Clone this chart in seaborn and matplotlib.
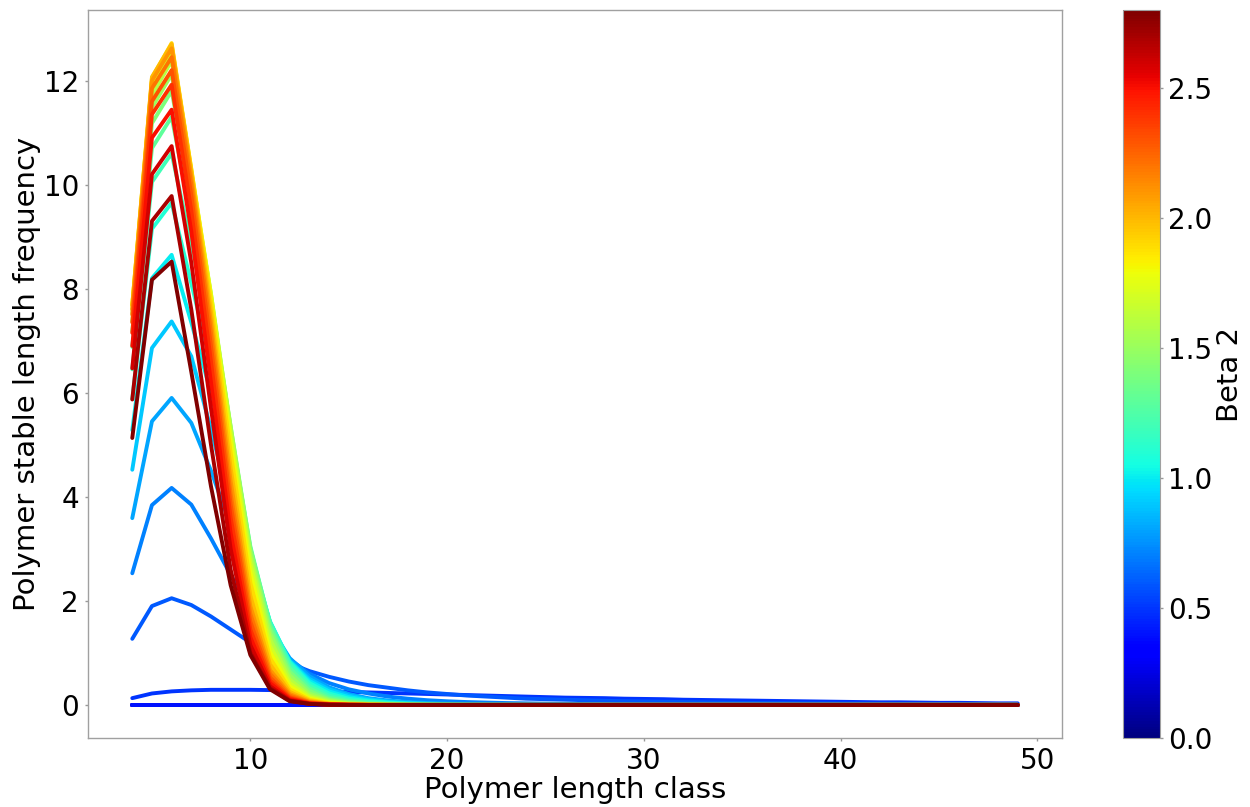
import matplotlib
matplotlib.use("Agg")
import matplotlib.pyplot as plt
import pandas as pd
import seaborn as sns
from matplotlib.colors import Normalize
from matplotlib.cm import ScalarMappable

# Polymer length classes (x axis)
length_class = [4, 5, 6, 7, 8, 9, 10, 11, 12, 13,
                14, 15, 16, 17, 18, 19, 20, 21, 22, 23,
                24, 25, 26, 27, 28, 29, 30, 31, 32, 33,
                34, 35, 36, 37, 38, 39, 40, 41, 42, 43,
                44, 45, 46, 47, 48, 49]

beta_values = [0.0, 0.1, 0.2, 0.3, 0.4, 0.5, 0.6, 0.7, 0.8, 0.9,
               1.0, 1.1, 1.2, 1.3, 1.4, 1.5, 1.6, 1.7, 1.8, 1.9,
               2.0, 2.1, 2.2, 2.3, 2.4, 2.5, 2.6, 2.7, 2.8]

freq_b00 = [0, 0, 0, 0, 0, 0, 0, 0, 0, 0,
            0, 0, 0, 0, 0, 0, 0, 0, 0, 0,
            0, 0, 0, 0, 0, 0, 0, 0, 0, 0,
            0, 0, 0, 0, 0, 0, 0, 0, 0, 0,
            0, 0, 0, 0, 0, 0]
freq_b01 = [0, 0, 0, 0, 0, 0, 0, 0, 0, 0,
            0, 0, 0, 0, 0, 0, 0, 0, 0, 0,
            0, 0, 0, 0, 0, 0, 0, 0, 0, 0,
            0, 0, 0, 0, 0, 0, 0, 0, 0, 0,
            0, 0, 0, 0, 0, 0]
freq_b02 = [0, 0, 0, 0, 0, 0, 0, 0, 0, 0,
            0, 0, 0, 0, 0, 0, 0, 0, 0, 0,
            0, 0, 0, 0, 0, 0, 0, 0, 0, 0,
            0, 0, 0, 0, 0, 0, 0, 0, 0, 0,
            0, 0, 0, 0, 0, 0]
freq_b03 = [0, 0, 0, 0, 0, 0, 0, 0, 0, 0,
            0, 0, 0, 0, 0, 0, 0, 0, 0, 0,
            0, 0, 0, 0, 0, 0, 0, 0, 0, 0,
            0, 0, 0, 0, 0, 0, 0, 0, 0, 0,
            0, 0, 0, 0, 0, 0]
freq_b04 = [0, 0, 0, 0, 0, 0, 0, 0, 0, 0,
            0, 0, 0, 0, 0, 0, 0, 0, 0, 0,
            0, 0, 0, 0, 0, 0, 0, 0, 0, 0,
            0, 0, 0, 0, 0, 0, 0, 0, 0, 0,
            0, 0, 0, 0, 0, 0]
freq_b05 = [0.13, 0.22, 0.26, 0.28, 0.29, 0.29, 0.29, 0.285, 0.28, 0.27,
            0.26, 0.25, 0.24, 0.23, 0.22, 0.21, 0.20, 0.19, 0.18, 0.17,
            0.16, 0.15, 0.14, 0.135, 0.13, 0.12, 0.115, 0.11, 0.10, 0.095,
            0.09, 0.085, 0.08, 0.075, 0.07, 0.065, 0.06, 0.055, 0.05, 0.05,
            0.045, 0.04, 0.04, 0.035, 0.03, 0.03]
freq_b06 = [1.27, 1.90, 2.05, 1.92, 1.70, 1.45, 1.20, 0.98, 0.80, 0.65,
            0.54, 0.45, 0.38, 0.33, 0.28, 0.24, 0.21, 0.18, 0.16, 0.14,
            0.12, 0.11, 0.10, 0.09, 0.08, 0.07, 0.065, 0.06, 0.055, 0.05,
            0.045, 0.04, 0.037, 0.034, 0.031, 0.028, 0.025, 0.023, 0.021, 0.019,
            0.017, 0.015, 0.014, 0.013, 0.012, 0.011]
freq_b07 = [2.53, 3.84, 4.17, 3.85, 3.20, 2.50, 1.85, 1.30, 0.88, 0.60,
            0.42, 0.30, 0.22, 0.16, 0.12, 0.09, 0.07, 0.055, 0.045, 0.036,
            0.03, 0.025, 0.021, 0.018, 0.015, 0.013, 0.011, 0.01, 0.009, 0.008,
            0.007, 0.006, 0.005, 0.005, 0.004, 0.004, 0.003, 0.003, 0.003, 0.002,
            0.002, 0.002, 0.002, 0.001, 0.001, 0.001]
freq_b08 = [3.59, 5.45, 5.90, 5.42, 4.50, 3.45, 2.40, 1.50, 0.90, 0.55,
            0.34, 0.21, 0.13, 0.085, 0.055, 0.037, 0.025, 0.017, 0.012, 0.008,
            0.006, 0.004, 0.003, 0.002, 0.001, 0, 0, 0, 0, 0,
            0, 0, 0, 0, 0, 0, 0, 0, 0, 0,
            0, 0, 0, 0, 0, 0]
freq_b09 = [4.52, 6.86, 7.37, 6.70, 5.30, 3.80, 2.50, 1.50, 0.85, 0.50,
            0.30, 0.18, 0.11, 0.065, 0.04, 0.025, 0.015, 0.01, 0.006, 0.004,
            0.002, 0.001, 0, 0, 0, 0, 0, 0, 0, 0,
            0, 0, 0, 0, 0, 0, 0, 0, 0, 0,
            0, 0, 0, 0, 0, 0]
freq_b10 = [5.28, 8.20, 8.65, 7.35, 6.00, 4.40, 2.80, 1.60, 0.84, 0.46,
            0.26, 0.15, 0.09, 0.05, 0.03, 0.018, 0.01, 0.005, 0.002, 0.001,
            0, 0, 0, 0, 0, 0, 0, 0, 0, 0,
            0, 0, 0, 0, 0, 0, 0, 0, 0, 0,
            0, 0, 0, 0, 0, 0]
freq_b11 = [5.88, 9.15, 9.65, 8.10, 6.55, 4.75, 2.90, 1.60, 0.82, 0.42,
            0.22, 0.12, 0.07, 0.04, 0.02, 0.01, 0.005, 0.002, 0, 0,
            0, 0, 0, 0, 0, 0, 0, 0, 0, 0,
            0, 0, 0, 0, 0, 0, 0, 0, 0, 0,
            0, 0, 0, 0, 0, 0]
freq_b12 = [6.45, 10.05, 10.60, 8.85, 7.10, 5.05, 3.00, 1.58, 0.78, 0.37,
            0.18, 0.09, 0.05, 0.025, 0.012, 0.006, 0.002, 0, 0, 0,
            0, 0, 0, 0, 0, 0, 0, 0, 0, 0,
            0, 0, 0, 0, 0, 0, 0, 0, 0, 0,
            0, 0, 0, 0, 0, 0]
freq_b13 = [6.88, 10.70, 11.30, 9.37, 7.45, 5.25, 3.05, 1.54, 0.71, 0.32,
            0.14, 0.07, 0.03, 0.015, 0.007, 0.003, 0.001, 0, 0, 0,
            0, 0, 0, 0, 0, 0, 0, 0, 0, 0,
            0, 0, 0, 0, 0, 0, 0, 0, 0, 0,
            0, 0, 0, 0, 0, 0]
freq_b14 = [7.18, 11.18, 11.80, 9.75, 7.70, 5.35, 3.02, 1.47, 0.64, 0.27,
            0.11, 0.05, 0.02, 0.01, 0.004, 0.001, 0, 0, 0, 0,
            0, 0, 0, 0, 0, 0, 0, 0, 0, 0,
            0, 0, 0, 0, 0, 0, 0, 0, 0, 0,
            0, 0, 0, 0, 0, 0]
freq_b15 = [7.37, 11.48, 12.12, 9.97, 7.82, 5.35, 2.95, 1.38, 0.57, 0.22,
            0.09, 0.035, 0.014, 0.005, 0.002, 0, 0, 0, 0, 0,
            0, 0, 0, 0, 0, 0, 0, 0, 0, 0,
            0, 0, 0, 0, 0, 0, 0, 0, 0, 0,
            0, 0, 0, 0, 0, 0]
freq_b16 = [7.52, 11.72, 12.38, 10.15, 7.90, 5.30, 2.85, 1.27, 0.49, 0.18,
            0.07, 0.025, 0.01, 0.003, 0.001, 0, 0, 0, 0, 0,
            0, 0, 0, 0, 0, 0, 0, 0, 0, 0,
            0, 0, 0, 0, 0, 0, 0, 0, 0, 0,
            0, 0, 0, 0, 0, 0]
freq_b17 = [7.62, 11.90, 12.55, 10.25, 7.90, 5.20, 2.72, 1.14, 0.42, 0.15,
            0.05, 0.02, 0.01, 0.002, 0, 0, 0, 0, 0, 0,
            0, 0, 0, 0, 0, 0, 0, 0, 0, 0,
            0, 0, 0, 0, 0, 0, 0, 0, 0, 0,
            0, 0, 0, 0, 0, 0]
freq_b18 = [7.68, 12.00, 12.66, 10.30, 7.85, 5.05, 2.55, 1.02, 0.36, 0.12,
            0.04, 0.01, 0.004, 0.001, 0, 0, 0, 0, 0, 0,
            0, 0, 0, 0, 0, 0, 0, 0, 0, 0,
            0, 0, 0, 0, 0, 0, 0, 0, 0, 0,
            0, 0, 0, 0, 0, 0]
freq_b19 = [7.70, 12.05, 12.72, 10.30, 7.75, 4.85, 2.35, 0.90, 0.30, 0.10,
            0.03, 0.01, 0.003, 0, 0, 0, 0, 0, 0, 0,
            0, 0, 0, 0, 0, 0, 0, 0, 0, 0,
            0, 0, 0, 0, 0, 0, 0, 0, 0, 0,
            0, 0, 0, 0, 0, 0]
freq_b20 = [7.68, 12.07, 12.70, 10.25, 7.55, 4.55, 2.10, 0.78, 0.25, 0.08,
            0.02, 0.01, 0.002, 0, 0, 0, 0, 0, 0, 0,
            0, 0, 0, 0, 0, 0, 0, 0, 0, 0,
            0, 0, 0, 0, 0, 0, 0, 0, 0, 0,
            0, 0, 0, 0, 0, 0]
freq_b21 = [7.60, 12.00, 12.62, 10.15, 7.35, 4.30, 1.90, 0.67, 0.21, 0.06,
            0.02, 0.005, 0.001, 0, 0, 0, 0, 0, 0, 0,
            0, 0, 0, 0, 0, 0, 0, 0, 0, 0,
            0, 0, 0, 0, 0, 0, 0, 0, 0, 0,
            0, 0, 0, 0, 0, 0]
freq_b22 = [7.50, 11.85, 12.45, 10.00, 7.15, 4.05, 1.75, 0.60, 0.18, 0.05,
            0.01, 0.003, 0, 0, 0, 0, 0, 0, 0, 0,
            0, 0, 0, 0, 0, 0, 0, 0, 0, 0,
            0, 0, 0, 0, 0, 0, 0, 0, 0, 0,
            0, 0, 0, 0, 0, 0]
freq_b23 = [7.35, 11.60, 12.20, 9.80, 6.90, 3.85, 1.60, 0.53, 0.15, 0.04,
            0.01, 0.002, 0, 0, 0, 0, 0, 0, 0, 0,
            0, 0, 0, 0, 0, 0, 0, 0, 0, 0,
            0, 0, 0, 0, 0, 0, 0, 0, 0, 0,
            0, 0, 0, 0, 0, 0]
freq_b24 = [7.15, 11.35, 11.92, 9.50, 6.60, 3.60, 1.45, 0.47, 0.13, 0.03,
            0.01, 0.002, 0, 0, 0, 0, 0, 0, 0, 0,
            0, 0, 0, 0, 0, 0, 0, 0, 0, 0,
            0, 0, 0, 0, 0, 0, 0, 0, 0, 0,
            0, 0, 0, 0, 0, 0]
freq_b25 = [6.90, 10.90, 11.44, 9.10, 6.20, 3.30, 1.30, 0.42, 0.11, 0.03,
            0.006, 0.001, 0, 0, 0, 0, 0, 0, 0, 0,
            0, 0, 0, 0, 0, 0, 0, 0, 0, 0,
            0, 0, 0, 0, 0, 0, 0, 0, 0, 0,
            0, 0, 0, 0, 0, 0]
freq_b26 = [6.47, 10.20, 10.74, 8.50, 5.70, 3.00, 1.15, 0.36, 0.09, 0.02,
            0.004, 0.001, 0, 0, 0, 0, 0, 0, 0, 0,
            0, 0, 0, 0, 0, 0, 0, 0, 0, 0,
            0, 0, 0, 0, 0, 0, 0, 0, 0, 0,
            0, 0, 0, 0, 0, 0]
freq_b27 = [5.87, 9.30, 9.78, 7.60, 5.00, 2.60, 1.00, 0.32, 0.08, 0.02,
            0.003, 0.001, 0, 0, 0, 0, 0, 0, 0, 0,
            0, 0, 0, 0, 0, 0, 0, 0, 0, 0,
            0, 0, 0, 0, 0, 0, 0, 0, 0, 0,
            0, 0, 0, 0, 0, 0]
freq_b28 = [5.13, 8.17, 8.52, 6.40, 4.20, 2.30, 0.96, 0.30, 0.07, 0.02,
            0.003, 0, 0, 0, 0, 0, 0, 0, 0, 0,
            0, 0, 0, 0, 0, 0, 0, 0, 0, 0,
            0, 0, 0, 0, 0, 0, 0, 0, 0, 0,
            0, 0, 0, 0, 0, 0]

series = [freq_b00, freq_b01, freq_b02, freq_b03, freq_b04, freq_b05,
          freq_b06, freq_b07, freq_b08, freq_b09, freq_b10, freq_b11,
          freq_b12, freq_b13, freq_b14, freq_b15, freq_b16, freq_b17,
          freq_b18, freq_b19, freq_b20, freq_b21, freq_b22, freq_b23,
          freq_b24, freq_b25, freq_b26, freq_b27, freq_b28]

frames = []
for b, vals in zip(beta_values, series):
    frames.append(pd.DataFrame({"length": length_class, "freq": vals, "beta": b}))
df = pd.concat(frames, ignore_index=True)

sns.set_style("white")
plt.rcParams["font.family"] = ["DejaVu Sans"]
plt.rcParams["text.color"] = "black"
plt.rcParams["axes.labelcolor"] = "black"
plt.rcParams["xtick.color"] = "black"
plt.rcParams["ytick.color"] = "black"

W, H = 1250, 807
fig = plt.figure(figsize=(W / 100, H / 100), dpi=100)
ax = fig.add_axes([88 / W, (H - 738) / H, (1062 - 88) / W, (738 - 10) / H])
cax = fig.add_axes([1123 / W, (H - 738) / H, 37 / W, (738 - 10) / H])

vmax = 2.8
jet = matplotlib.colormaps["jet"]
sns.lineplot(data=df, x="length", y="freq", hue="beta", palette=jet,
             hue_norm=(0.0, vmax), legend=False, linewidth=2.8,
             estimator=None, sort=False, ax=ax)

ax.set_xlabel("Polymer length class", fontsize=21, labelpad=1)
ax.set_ylabel("Polymer stable length frequency", fontsize=21, labelpad=2)
ax.tick_params(axis="both", labelsize=20, bottom=True, left=True,
               length=2.5, width=1, color="#999999", labelcolor="black",
               direction="out", pad=4)
for s in ax.spines.values():
    s.set_color("#a0a0a0")
    s.set_linewidth(1)

sm = ScalarMappable(norm=Normalize(0.0, vmax), cmap=jet)
cb = fig.colorbar(sm, cax=cax)
cb.set_label("Beta 2", fontsize=21, labelpad=3)
cb.ax.tick_params(labelsize=20, length=2.5, width=1, color="#999999",
                  labelcolor="black", pad=3)
cb.outline.set_edgecolor("#a0a0a0")
cb.outline.set_linewidth(0.8)

fig.savefig("out.png", dpi=100)
